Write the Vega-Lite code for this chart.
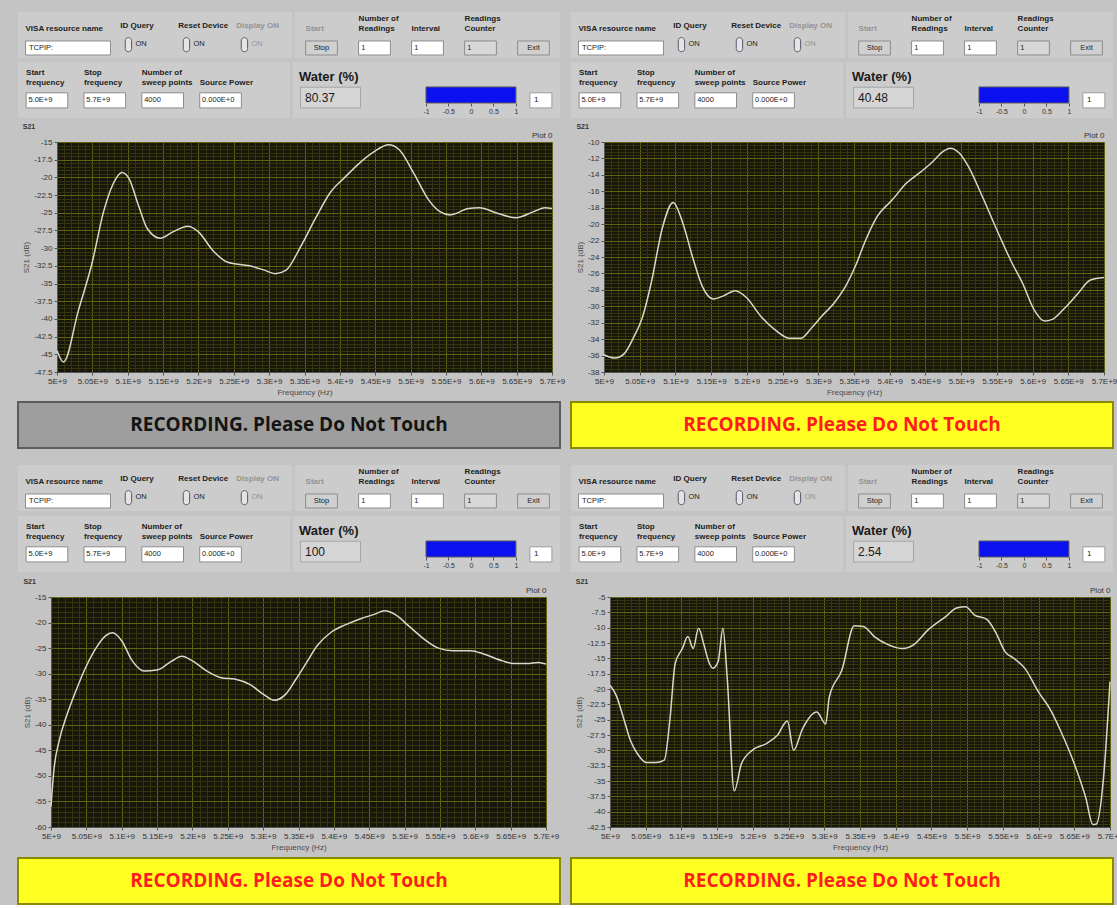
{
"$schema": "https://vega.github.io/schema/vega-lite/v6.json",
"background": "#c4c4c4",
"padding": {"left": 15, "top": 12, "right": 0, "bottom": 0},
"config": {
  "view": {"stroke": null},
  "font": "Liberation Sans",
  "axis": {"labelFont": "Liberation Sans", "labelFontSize": 8, "labelColor": "#333333", "titleFont": "Liberation Sans", "titleFontSize": 8, "titleFontWeight": "normal", "titleColor": "#4a4a4a", "tickColor": "#555555", "domainColor": "#555555"},
  "title": {"font": "Liberation Sans"}
},
"datasets": {
  "visa": [{"label": "\nVISA resource name", "value": "TCPIP:", "kind": "input", "state": "on"}],
  "toggles": [{"label": "ID Query", "value": "ON", "state": "on"}, {"label": "Reset Device", "value": "ON", "state": "on"}, {"label": "Display ON", "value": "ON", "state": "off"}],
  "run": [{"label": "\nStart", "value": "Stop", "kind": "button", "state": "off"}, {"label": "Number of\nReadings", "value": "1", "kind": "input", "state": "on"}, {"label": "\nInterval", "value": "1", "kind": "input", "state": "on"}, {"label": "Readings\nCounter", "value": "1", "kind": "indicator", "state": "on"}, {"label": " ", "value": "Exit", "kind": "button", "state": "on"}],
  "freq": [{"label": "Start\nfrequency", "value": "5.0E+9", "kind": "input", "state": "on"}, {"label": "Stop\nfrequency", "value": "5.7E+9", "kind": "input", "state": "on"}, {"label": "Number of\nsweep points", "value": "4000", "kind": "input", "state": "on"}, {"label": "\nSource Power", "value": "0.000E+0", "kind": "input", "state": "on"}],
  "indicator": [{"reading": 1}],
  "spacer": [{"k": 0}]
},
"spacing": 2,
"hconcat": [
{"spacing": 16, "vconcat": [
 {"concat": [
  {"hconcat": [
   {"hconcat": [
    {"width": 100, "height": 46, "view": {"fill": "#cccccc", "stroke": null}, "data": {"name": "visa"},
     "layer": [
      {"mark": {"type": "bar", "width": {"band": 0.85}, "stroke": "#8c8c8c", "strokeWidth": 1},
       "encoding": {"x": {"field": "label", "type": "nominal", "sort": null, "axis": null, "scale": {"paddingInner": 0, "paddingOuter": 0}},
        "y": {"datum": 0.065, "type": "quantitative", "axis": null, "scale": {"domain": [0, 1], "nice": false, "zero": false}},
        "y2": {"datum": 0.37},
        "fill": {"field": "kind", "type": "nominal", "legend": null, "scale": {"domain": ["input", "indicator", "button"], "range": ["#ffffff", "#d8d8d8", "#d0d0d0"]}}}},
      {"mark": {"type": "text", "align": "left", "baseline": "top", "fontSize": 8, "fontWeight": "bold", "lineBreak": "\n", "lineHeight": 10},
       "encoding": {"x": {"field": "label", "type": "nominal", "sort": null, "axis": null, "bandPosition": 0.075},
        "y": {"datum": 0.935, "type": "quantitative", "axis": null},
        "text": {"field": "label"},
        "color": {"field": "state", "type": "nominal", "legend": null, "scale": {"domain": ["on", "off"], "range": ["#1c1c1c", "#939393"]}}}},
      {"mark": {"type": "text", "align": "left", "baseline": "middle", "fontSize": 7.5, "color": "#222222"},
       "encoding": {"x": {"field": "label", "type": "nominal", "sort": null, "axis": null, "bandPosition": 0.11},
        "y": {"datum": 0.217, "type": "quantitative", "axis": null},
        "text": {"field": "value"}}}]},
    {"width": 174, "height": 46, "view": {"fill": "#cccccc", "stroke": null}, "data": {"name": "toggles"},
     "layer": [
      {"mark": {"type": "text", "align": "left", "baseline": "bottom", "fontSize": 8, "fontWeight": "bold"},
       "encoding": {"x": {"field": "label", "type": "nominal", "sort": null, "axis": null, "bandPosition": 0.04, "scale": {"type": "band", "paddingInner": 0, "paddingOuter": 0}},
        "y": {"datum": 0.61, "type": "quantitative", "axis": null, "scale": {"domain": [0, 1], "nice": false, "zero": false}},
        "text": {"field": "label"},
        "color": {"field": "state", "type": "nominal", "legend": null, "scale": {"domain": ["on", "off"], "range": ["#1c1c1c", "#939393"]}}}},
      {"mark": {"type": "point", "shape": "M -0.45 -0.55 A 0.45 0.45 0 0 1 0.45 -0.55 L 0.45 0.55 A 0.45 0.45 0 0 1 -0.45 0.55 Z", "size": 200, "filled": true, "fill": "#e4e4e4", "stroke": "#56566e", "strokeWidth": 1, "opacity": 1},
       "encoding": {"x": {"field": "label", "type": "nominal", "sort": null, "axis": null, "bandPosition": 0.18},
        "y": {"datum": 0.29, "type": "quantitative", "axis": null}}},
      {"mark": {"type": "text", "align": "left", "baseline": "middle", "fontSize": 7.5},
       "encoding": {"x": {"field": "label", "type": "nominal", "sort": null, "axis": null, "bandPosition": 0.3},
        "y": {"datum": 0.31, "type": "quantitative", "axis": null},
        "text": {"field": "value"},
        "color": {"field": "state", "type": "nominal", "legend": null, "scale": {"domain": ["on", "off"], "range": ["#1c1c1c", "#939393"]}}}}]}
   ], "spacing": 0},
   {"width": 265, "height": 46, "view": {"fill": "#cccccc", "stroke": null}, "data": {"name": "run"},
    "layer": [
     {"mark": {"type": "bar", "width": {"band": 0.6}, "stroke": "#8c8c8c", "strokeWidth": 1},
      "encoding": {"x": {"field": "label", "type": "nominal", "sort": null, "axis": null, "scale": {"paddingInner": 0, "paddingOuter": 0}},
       "y": {"datum": 0.065, "type": "quantitative", "axis": null, "scale": {"domain": [0, 1], "nice": false, "zero": false}},
       "y2": {"datum": 0.37},
       "fill": {"field": "kind", "type": "nominal", "legend": null, "scale": {"domain": ["input", "indicator", "button"], "range": ["#ffffff", "#d8d8d8", "#d0d0d0"]}}}},
     {"mark": {"type": "text", "align": "left", "baseline": "top", "fontSize": 8, "fontWeight": "bold", "lineBreak": "\n", "lineHeight": 10},
      "encoding": {"x": {"field": "label", "type": "nominal", "sort": null, "axis": null, "bandPosition": 0.2},
       "y": {"datum": 0.935, "type": "quantitative", "axis": null},
       "text": {"field": "label"},
       "color": {"field": "state", "type": "nominal", "legend": null, "scale": {"domain": ["on", "off"], "range": ["#1c1c1c", "#939393"]}}}},
     {"transform": [{"filter": "datum.kind != 'button'"}],
      "mark": {"type": "text", "align": "left", "baseline": "middle", "fontSize": 7.5, "color": "#222222"},
      "encoding": {"x": {"field": "label", "type": "nominal", "sort": null, "axis": null, "bandPosition": 0.25},
       "y": {"datum": 0.217, "type": "quantitative", "axis": null},
       "text": {"field": "value"}}},
     {"transform": [{"filter": "datum.kind == 'button'"}],
      "mark": {"type": "text", "align": "center", "baseline": "middle", "fontSize": 7.5, "color": "#222222"},
      "encoding": {"x": {"field": "label", "type": "nominal", "sort": null, "axis": null, "bandPosition": 0.5},
       "y": {"datum": 0.217, "type": "quantitative", "axis": null},
       "text": {"field": "value"}}}]}
  ], "spacing": 3},
  {"hconcat": [
   {"width": 272, "height": 56, "view": {"fill": "#cccccc", "stroke": null}, "data": {"name": "freq"},
    "layer": [
     {"mark": {"type": "bar", "width": {"band": 0.72}, "stroke": "#8c8c8c", "strokeWidth": 1},
      "encoding": {"x": {"field": "label", "type": "nominal", "sort": null, "axis": null, "scale": {"paddingInner": 0, "paddingOuter": 0.35, "align": 0}},
       "y": {"datum": 0.18, "type": "quantitative", "axis": null, "scale": {"domain": [0, 1], "nice": false, "zero": false}},
       "y2": {"datum": 0.45},
       "fill": {"field": "kind", "type": "nominal", "legend": null, "scale": {"domain": ["input", "indicator", "button"], "range": ["#ffffff", "#d8d8d8", "#d0d0d0"]}}}},
     {"mark": {"type": "text", "align": "left", "baseline": "top", "fontSize": 8, "fontWeight": "bold", "lineBreak": "\n", "lineHeight": 10, "color": "#1c1c1c"},
      "encoding": {"x": {"field": "label", "type": "nominal", "sort": null, "axis": null, "bandPosition": 0.14},
       "y": {"datum": 0.875, "type": "quantitative", "axis": null},
       "text": {"field": "label"}}},
     {"mark": {"type": "text", "align": "left", "baseline": "middle", "fontSize": 7.5, "color": "#222222"},
      "encoding": {"x": {"field": "label", "type": "nominal", "sort": null, "axis": null, "bandPosition": 0.18},
       "y": {"datum": 0.315, "type": "quantitative", "axis": null},
       "text": {"field": "value"}}}]},
   {"hconcat": [
    {"width": 75, "height": 56, "view": {"fill": "#cccccc", "stroke": null}, "data": {"values": [{"label": "Water (%)", "value": "80.37"}]},
     "layer": [
      {"mark": {"type": "bar", "width": {"band": 0.8}, "fill": "#d5d5d5", "stroke": "#a6a6a6", "strokeWidth": 1},
       "encoding": {"x": {"field": "label", "type": "nominal", "axis": null, "scale": {"paddingInner": 0, "paddingOuter": 0}},
        "y": {"datum": 0.18, "type": "quantitative", "axis": null, "scale": {"domain": [0, 1], "nice": false, "zero": false}},
        "y2": {"datum": 0.55}}},
      {"mark": {"type": "text", "align": "left", "baseline": "middle", "fontSize": 13, "fontWeight": "bold", "color": "#1a1a1a"},
       "encoding": {"x": {"field": "label", "type": "nominal", "axis": null, "bandPosition": 0.08},
        "y": {"datum": 0.73, "type": "quantitative", "axis": null},
        "text": {"field": "label"}}},
      {"mark": {"type": "text", "align": "left", "baseline": "middle", "fontSize": 12, "color": "#1a1a1a"},
       "encoding": {"x": {"field": "label", "type": "nominal", "axis": null, "bandPosition": 0.16},
        "y": {"datum": 0.365, "type": "quantitative", "axis": null},
        "text": {"field": "value"}}}]},
    {"width": 192, "height": 56, "view": {"fill": "#cccccc", "stroke": null}, "data": {"name": "indicator"},
     "layer": [
      {"mark": {"type": "rect", "fill": "#0a10f0", "stroke": "#5a5a5a", "strokeWidth": 1},
       "encoding": {"x": {"field": "reading", "type": "quantitative", "scale": {"domain": [-2.29, 1.98], "nice": false, "zero": false},
         "axis": {"values": [-1, -0.5, 0, 0.5, 1], "labelExpr": "'' + datum.value", "domain": false, "grid": false, "tickSize": 3, "labelFontSize": 7, "labelPadding": 1, "title": null, "offset": -15, "labelFlush": false, "labelOverlap": false}},
        "x2": {"datum": -1},
        "y": {"datum": 0.268, "type": "quantitative", "axis": null, "scale": {"domain": [0, 1], "nice": false, "zero": false}},
        "y2": {"datum": 0.554}}},
      {"mark": {"type": "rect", "fill": "#ffffff", "stroke": "#9a9a9a", "strokeWidth": 1},
       "encoding": {"x": {"datum": 1.31, "type": "quantitative"}, "x2": {"datum": 1.8},
        "y": {"datum": 0.18, "type": "quantitative", "axis": null}, "y2": {"datum": 0.45}}},
      {"mark": {"type": "text", "align": "left", "baseline": "middle", "fontSize": 8, "color": "#222222"},
       "encoding": {"x": {"datum": 1.4, "type": "quantitative"},
        "y": {"datum": 0.315, "type": "quantitative", "axis": null},
        "text": {"field": "reading"}}}]}
   ], "spacing": 0}
  ], "spacing": 3},
  {"hconcat": [
  {"width": 1, "height": 1, "view": {"fill": null, "stroke": null}, "data": {"name": "spacer"}, "mark": {"type": "point", "opacity": 0}},
  {"width": 495, "height": 230,
   "title": {"text": "S21", "anchor": "start", "frame": "bounds", "fontSize": 7, "fontWeight": "bold", "color": "#333333", "offset": 1},
   "view": {"fill": "#16160a", "stroke": "#6e6e6e"},
   "data": {"values": [
    {"f": 5.0e9, "s": -44.5}, {"f": 5.0093e9, "s": -46.1}, {"f": 5.030e9, "s": -38.9}, {"f": 5.0496e9, "s": -32.1}, {"f": 5.066e9, "s": -24.8}, {"f": 5.079e9, "s": -21.0}, {"f": 5.092e9, "s": -19.3}, {"f": 5.102e9, "s": -20.2}, {"f": 5.115e9, "s": -23.9}, {"f": 5.128e9, "s": -27.3}, {"f": 5.146e9, "s": -28.6}, {"f": 5.164e9, "s": -27.7}, {"f": 5.185e9, "s": -26.9}, {"f": 5.200e9, "s": -27.7}, {"f": 5.221e9, "s": -30.4}, {"f": 5.2416e9, "s": -32.0}, {"f": 5.2726e9, "s": -32.5}, {"f": 5.293e9, "s": -33.1}, {"f": 5.3087e9, "s": -33.6}, {"f": 5.324e9, "s": -33.1}, {"f": 5.345e9, "s": -29.7}, {"f": 5.3655e9, "s": -25.8}, {"f": 5.386e9, "s": -22.2}, {"f": 5.407e9, "s": -20.0}, {"f": 5.427e9, "s": -18.05}, {"f": 5.448e9, "s": -16.4}, {"f": 5.469e9, "s": -15.4}, {"f": 5.484e9, "s": -16.1}, {"f": 5.505e9, "s": -19.5}, {"f": 5.525e9, "s": -23.1}, {"f": 5.541e9, "s": -24.8}, {"f": 5.556e9, "s": -25.3}, {"f": 5.582e9, "s": -24.4}, {"f": 5.597e9, "s": -24.3}, {"f": 5.6236e9, "s": -25.1}, {"f": 5.649e9, "s": -25.7}, {"f": 5.675e9, "s": -24.8}, {"f": 5.69e9, "s": -24.3}, {"f": 5.7e9, "s": -24.4}
   ]},
   "resolve": {"axis": {"x": "independent", "y": "independent"}},
   "layer": [
    {"mark": {"type": "line", "opacity": 0},
     "encoding": {
      "x": {"field": "f", "type": "quantitative", "scale": {"domain": [5e9, 5.7e9], "nice": false, "zero": false},
        "axis": {"orient": "top", "minExtent": 0, "values": [5.01e9,5.02e9,5.03e9,5.04e9,5.06e9,5.07e9,5.08e9,5.09e9,5.11e9,5.12e9,5.13e9,5.14e9,5.16e9,5.17e9,5.18e9,5.19e9,5.21e9,5.22e9,5.23e9,5.24e9,5.26e9,5.27e9,5.28e9,5.29e9,5.31e9,5.32e9,5.33e9,5.34e9,5.36e9,5.37e9,5.38e9,5.39e9,5.41e9,5.42e9,5.43e9,5.44e9,5.46e9,5.47e9,5.48e9,5.49e9,5.51e9,5.52e9,5.53e9,5.54e9,5.56e9,5.57e9,5.58e9,5.59e9,5.61e9,5.62e9,5.63e9,5.64e9,5.66e9,5.67e9,5.68e9,5.69e9], "grid": true, "gridColor": "#34340f", "labels": false, "ticks": false, "domain": false, "title": "Plot 0", "titleAnchor": "end", "titleColor": "#333333", "titlePadding": 3}},
      "y": {"field": "s", "type": "quantitative", "scale": {"domain": [-47.5, -15], "nice": false, "zero": false},
        "axis": {"orient": "right", "minExtent": 0, "values": [-15.5,-16,-16.5,-17,-18,-18.5,-19,-19.5,-20.5,-21,-21.5,-22,-23,-23.5,-24,-24.5,-25.5,-26,-26.5,-27,-28,-28.5,-29,-29.5,-30.5,-31,-31.5,-32,-33,-33.5,-34,-34.5,-35.5,-36,-36.5,-37,-38,-38.5,-39,-39.5,-40.5,-41,-41.5,-42,-43,-43.5,-44,-44.5,-45.5,-46,-46.5,-47], "grid": true, "gridColor": "#34340f", "labels": false, "ticks": false, "domain": false, "title": null}}}},
    {"mark": {"type": "line", "interpolate": "monotone", "color": "#d8d8cc", "strokeWidth": 1.5},
     "encoding": {
      "x": {"field": "f", "type": "quantitative",
        "axis": {"orient": "bottom", "values": [5e9,5.05e9,5.1e9,5.15e9,5.2e9,5.25e9,5.3e9,5.35e9,5.4e9,5.45e9,5.5e9,5.55e9,5.6e9,5.65e9,5.7e9], "grid": true, "gridColor": "#62620f", "labelExpr": "datum.value / 1e9 + 'E+9'", "labelFlush": false, "labelOverlap": false, "tickSize": 3, "title": "Frequency (Hz)", "titlePadding": 3}},
      "y": {"field": "s", "type": "quantitative",
        "axis": {"orient": "left", "values": [-15,-17.5,-20,-22.5,-25,-27.5,-30,-32.5,-35,-37.5,-40,-42.5,-45,-47.5], "grid": true, "gridColor": "#62620f", "labelExpr": "'' + datum.value", "labelOverlap": false, "tickSize": 3, "title": "S21 (dB)", "titlePadding": 3}}}}
   ]}
  ], "spacing": 0},
  {"width": 542, "height": 46, "view": {"fill": "#9e9e9e", "stroke": "#5c5c5c", "strokeWidth": 2}, "data": {"values": [{"msg": "RECORDING. Please Do Not Touch"}]},
   "mark": {"type": "text", "font": "Open Sans", "fontSize": 19, "fontWeight": "bold", "color": "#141414"},
   "encoding": {"text": {"field": "msg"}}}
 ], "columns": 1, "spacing": 4},
 {"concat": [
  {"hconcat": [
   {"hconcat": [
    {"width": 100, "height": 46, "view": {"fill": "#cccccc", "stroke": null}, "data": {"name": "visa"},
     "layer": [
      {"mark": {"type": "bar", "width": {"band": 0.85}, "stroke": "#8c8c8c", "strokeWidth": 1},
       "encoding": {"x": {"field": "label", "type": "nominal", "sort": null, "axis": null, "scale": {"paddingInner": 0, "paddingOuter": 0}},
        "y": {"datum": 0.065, "type": "quantitative", "axis": null, "scale": {"domain": [0, 1], "nice": false, "zero": false}},
        "y2": {"datum": 0.37},
        "fill": {"field": "kind", "type": "nominal", "legend": null, "scale": {"domain": ["input", "indicator", "button"], "range": ["#ffffff", "#d8d8d8", "#d0d0d0"]}}}},
      {"mark": {"type": "text", "align": "left", "baseline": "top", "fontSize": 8, "fontWeight": "bold", "lineBreak": "\n", "lineHeight": 10},
       "encoding": {"x": {"field": "label", "type": "nominal", "sort": null, "axis": null, "bandPosition": 0.075},
        "y": {"datum": 0.935, "type": "quantitative", "axis": null},
        "text": {"field": "label"},
        "color": {"field": "state", "type": "nominal", "legend": null, "scale": {"domain": ["on", "off"], "range": ["#1c1c1c", "#939393"]}}}},
      {"mark": {"type": "text", "align": "left", "baseline": "middle", "fontSize": 7.5, "color": "#222222"},
       "encoding": {"x": {"field": "label", "type": "nominal", "sort": null, "axis": null, "bandPosition": 0.11},
        "y": {"datum": 0.217, "type": "quantitative", "axis": null},
        "text": {"field": "value"}}}]},
    {"width": 174, "height": 46, "view": {"fill": "#cccccc", "stroke": null}, "data": {"name": "toggles"},
     "layer": [
      {"mark": {"type": "text", "align": "left", "baseline": "bottom", "fontSize": 8, "fontWeight": "bold"},
       "encoding": {"x": {"field": "label", "type": "nominal", "sort": null, "axis": null, "bandPosition": 0.04, "scale": {"type": "band", "paddingInner": 0, "paddingOuter": 0}},
        "y": {"datum": 0.61, "type": "quantitative", "axis": null, "scale": {"domain": [0, 1], "nice": false, "zero": false}},
        "text": {"field": "label"},
        "color": {"field": "state", "type": "nominal", "legend": null, "scale": {"domain": ["on", "off"], "range": ["#1c1c1c", "#939393"]}}}},
      {"mark": {"type": "point", "shape": "M -0.45 -0.55 A 0.45 0.45 0 0 1 0.45 -0.55 L 0.45 0.55 A 0.45 0.45 0 0 1 -0.45 0.55 Z", "size": 200, "filled": true, "fill": "#e4e4e4", "stroke": "#56566e", "strokeWidth": 1, "opacity": 1},
       "encoding": {"x": {"field": "label", "type": "nominal", "sort": null, "axis": null, "bandPosition": 0.18},
        "y": {"datum": 0.29, "type": "quantitative", "axis": null}}},
      {"mark": {"type": "text", "align": "left", "baseline": "middle", "fontSize": 7.5},
       "encoding": {"x": {"field": "label", "type": "nominal", "sort": null, "axis": null, "bandPosition": 0.3},
        "y": {"datum": 0.31, "type": "quantitative", "axis": null},
        "text": {"field": "value"},
        "color": {"field": "state", "type": "nominal", "legend": null, "scale": {"domain": ["on", "off"], "range": ["#1c1c1c", "#939393"]}}}}]}
   ], "spacing": 0},
   {"width": 265, "height": 46, "view": {"fill": "#cccccc", "stroke": null}, "data": {"name": "run"},
    "layer": [
     {"mark": {"type": "bar", "width": {"band": 0.6}, "stroke": "#8c8c8c", "strokeWidth": 1},
      "encoding": {"x": {"field": "label", "type": "nominal", "sort": null, "axis": null, "scale": {"paddingInner": 0, "paddingOuter": 0}},
       "y": {"datum": 0.065, "type": "quantitative", "axis": null, "scale": {"domain": [0, 1], "nice": false, "zero": false}},
       "y2": {"datum": 0.37},
       "fill": {"field": "kind", "type": "nominal", "legend": null, "scale": {"domain": ["input", "indicator", "button"], "range": ["#ffffff", "#d8d8d8", "#d0d0d0"]}}}},
     {"mark": {"type": "text", "align": "left", "baseline": "top", "fontSize": 8, "fontWeight": "bold", "lineBreak": "\n", "lineHeight": 10},
      "encoding": {"x": {"field": "label", "type": "nominal", "sort": null, "axis": null, "bandPosition": 0.2},
       "y": {"datum": 0.935, "type": "quantitative", "axis": null},
       "text": {"field": "label"},
       "color": {"field": "state", "type": "nominal", "legend": null, "scale": {"domain": ["on", "off"], "range": ["#1c1c1c", "#939393"]}}}},
     {"transform": [{"filter": "datum.kind != 'button'"}],
      "mark": {"type": "text", "align": "left", "baseline": "middle", "fontSize": 7.5, "color": "#222222"},
      "encoding": {"x": {"field": "label", "type": "nominal", "sort": null, "axis": null, "bandPosition": 0.25},
       "y": {"datum": 0.217, "type": "quantitative", "axis": null},
       "text": {"field": "value"}}},
     {"transform": [{"filter": "datum.kind == 'button'"}],
      "mark": {"type": "text", "align": "center", "baseline": "middle", "fontSize": 7.5, "color": "#222222"},
      "encoding": {"x": {"field": "label", "type": "nominal", "sort": null, "axis": null, "bandPosition": 0.5},
       "y": {"datum": 0.217, "type": "quantitative", "axis": null},
       "text": {"field": "value"}}}]}
  ], "spacing": 3},
  {"hconcat": [
   {"width": 272, "height": 56, "view": {"fill": "#cccccc", "stroke": null}, "data": {"name": "freq"},
    "layer": [
     {"mark": {"type": "bar", "width": {"band": 0.72}, "stroke": "#8c8c8c", "strokeWidth": 1},
      "encoding": {"x": {"field": "label", "type": "nominal", "sort": null, "axis": null, "scale": {"paddingInner": 0, "paddingOuter": 0.35, "align": 0}},
       "y": {"datum": 0.18, "type": "quantitative", "axis": null, "scale": {"domain": [0, 1], "nice": false, "zero": false}},
       "y2": {"datum": 0.45},
       "fill": {"field": "kind", "type": "nominal", "legend": null, "scale": {"domain": ["input", "indicator", "button"], "range": ["#ffffff", "#d8d8d8", "#d0d0d0"]}}}},
     {"mark": {"type": "text", "align": "left", "baseline": "top", "fontSize": 8, "fontWeight": "bold", "lineBreak": "\n", "lineHeight": 10, "color": "#1c1c1c"},
      "encoding": {"x": {"field": "label", "type": "nominal", "sort": null, "axis": null, "bandPosition": 0.14},
       "y": {"datum": 0.875, "type": "quantitative", "axis": null},
       "text": {"field": "label"}}},
     {"mark": {"type": "text", "align": "left", "baseline": "middle", "fontSize": 7.5, "color": "#222222"},
      "encoding": {"x": {"field": "label", "type": "nominal", "sort": null, "axis": null, "bandPosition": 0.18},
       "y": {"datum": 0.315, "type": "quantitative", "axis": null},
       "text": {"field": "value"}}}]},
   {"hconcat": [
    {"width": 75, "height": 56, "view": {"fill": "#cccccc", "stroke": null}, "data": {"values": [{"label": "Water (%)", "value": "100"}]},
     "layer": [
      {"mark": {"type": "bar", "width": {"band": 0.8}, "fill": "#d5d5d5", "stroke": "#a6a6a6", "strokeWidth": 1},
       "encoding": {"x": {"field": "label", "type": "nominal", "axis": null, "scale": {"paddingInner": 0, "paddingOuter": 0}},
        "y": {"datum": 0.18, "type": "quantitative", "axis": null, "scale": {"domain": [0, 1], "nice": false, "zero": false}},
        "y2": {"datum": 0.55}}},
      {"mark": {"type": "text", "align": "left", "baseline": "middle", "fontSize": 13, "fontWeight": "bold", "color": "#1a1a1a"},
       "encoding": {"x": {"field": "label", "type": "nominal", "axis": null, "bandPosition": 0.08},
        "y": {"datum": 0.73, "type": "quantitative", "axis": null},
        "text": {"field": "label"}}},
      {"mark": {"type": "text", "align": "left", "baseline": "middle", "fontSize": 12, "color": "#1a1a1a"},
       "encoding": {"x": {"field": "label", "type": "nominal", "axis": null, "bandPosition": 0.16},
        "y": {"datum": 0.365, "type": "quantitative", "axis": null},
        "text": {"field": "value"}}}]},
    {"width": 192, "height": 56, "view": {"fill": "#cccccc", "stroke": null}, "data": {"name": "indicator"},
     "layer": [
      {"mark": {"type": "rect", "fill": "#0a10f0", "stroke": "#5a5a5a", "strokeWidth": 1},
       "encoding": {"x": {"field": "reading", "type": "quantitative", "scale": {"domain": [-2.29, 1.98], "nice": false, "zero": false},
         "axis": {"values": [-1, -0.5, 0, 0.5, 1], "labelExpr": "'' + datum.value", "domain": false, "grid": false, "tickSize": 3, "labelFontSize": 7, "labelPadding": 1, "title": null, "offset": -15, "labelFlush": false, "labelOverlap": false}},
        "x2": {"datum": -1},
        "y": {"datum": 0.268, "type": "quantitative", "axis": null, "scale": {"domain": [0, 1], "nice": false, "zero": false}},
        "y2": {"datum": 0.554}}},
      {"mark": {"type": "rect", "fill": "#ffffff", "stroke": "#9a9a9a", "strokeWidth": 1},
       "encoding": {"x": {"datum": 1.31, "type": "quantitative"}, "x2": {"datum": 1.8},
        "y": {"datum": 0.18, "type": "quantitative", "axis": null}, "y2": {"datum": 0.45}}},
      {"mark": {"type": "text", "align": "left", "baseline": "middle", "fontSize": 8, "color": "#222222"},
       "encoding": {"x": {"datum": 1.4, "type": "quantitative"},
        "y": {"datum": 0.315, "type": "quantitative", "axis": null},
        "text": {"field": "reading"}}}]}
   ], "spacing": 0}
  ], "spacing": 3},
  {"hconcat": [
  {"width": 1, "height": 1, "view": {"fill": null, "stroke": null}, "data": {"name": "spacer"}, "mark": {"type": "point", "opacity": 0}},
  {"width": 495, "height": 230,
   "title": {"text": "S21", "anchor": "start", "frame": "bounds", "fontSize": 7, "fontWeight": "bold", "color": "#333333", "offset": 1},
   "view": {"fill": "#16160a", "stroke": "#6e6e6e"},
   "data": {"values": [
    {"f": 5.0e9, "s": -56}, {"f": 5.004e9, "s": -49.0}, {"f": 5.0116e9, "s": -43.1}, {"f": 5.0217e9, "s": -38.4}, {"f": 5.034e9, "s": -33.8}, {"f": 5.049e9, "s": -28.8}, {"f": 5.0645e9, "s": -24.8}, {"f": 5.077e9, "s": -22.6}, {"f": 5.087e9, "s": -22.0}, {"f": 5.0997e9, "s": -23.5}, {"f": 5.115e9, "s": -27.5}, {"f": 5.132e9, "s": -29.5}, {"f": 5.150e9, "s": -29.3}, {"f": 5.170e9, "s": -27.6}, {"f": 5.185e9, "s": -26.6}, {"f": 5.200e9, "s": -27.5}, {"f": 5.2205e9, "s": -29.5}, {"f": 5.2407e9, "s": -30.8}, {"f": 5.261e9, "s": -31.1}, {"f": 5.281e9, "s": -32.1}, {"f": 5.301e9, "s": -34.1}, {"f": 5.316e9, "s": -35.2}, {"f": 5.3313e9, "s": -34.1}, {"f": 5.3464e9, "s": -31.1}, {"f": 5.3615e9, "s": -27.8}, {"f": 5.3766e9, "s": -24.5}, {"f": 5.397e9, "s": -21.8}, {"f": 5.417e9, "s": -20.4}, {"f": 5.437e9, "s": -19.3}, {"f": 5.457e9, "s": -18.4}, {"f": 5.472e9, "s": -17.7}, {"f": 5.4875e9, "s": -18.5}, {"f": 5.507e9, "s": -20.8}, {"f": 5.533e9, "s": -23.8}, {"f": 5.548e9, "s": -25.0}, {"f": 5.568e9, "s": -25.5}, {"f": 5.593e9, "s": -25.5}, {"f": 5.613e9, "s": -26.2}, {"f": 5.6385e9, "s": -27.5}, {"f": 5.6536e9, "s": -28.0}, {"f": 5.674e9, "s": -28.0}, {"f": 5.689e9, "s": -27.8}, {"f": 5.7e9, "s": -28.1}
   ]},
   "resolve": {"axis": {"x": "independent", "y": "independent"}},
   "layer": [
    {"mark": {"type": "line", "opacity": 0},
     "encoding": {
      "x": {"field": "f", "type": "quantitative", "scale": {"domain": [5e9, 5.7e9], "nice": false, "zero": false},
        "axis": {"orient": "top", "minExtent": 0, "values": [5.01e9,5.02e9,5.03e9,5.04e9,5.06e9,5.07e9,5.08e9,5.09e9,5.11e9,5.12e9,5.13e9,5.14e9,5.16e9,5.17e9,5.18e9,5.19e9,5.21e9,5.22e9,5.23e9,5.24e9,5.26e9,5.27e9,5.28e9,5.29e9,5.31e9,5.32e9,5.33e9,5.34e9,5.36e9,5.37e9,5.38e9,5.39e9,5.41e9,5.42e9,5.43e9,5.44e9,5.46e9,5.47e9,5.48e9,5.49e9,5.51e9,5.52e9,5.53e9,5.54e9,5.56e9,5.57e9,5.58e9,5.59e9,5.61e9,5.62e9,5.63e9,5.64e9,5.66e9,5.67e9,5.68e9,5.69e9], "grid": true, "gridColor": "#34340f", "labels": false, "ticks": false, "domain": false, "title": "Plot 0", "titleAnchor": "end", "titleColor": "#333333", "titlePadding": 3}},
      "y": {"field": "s", "type": "quantitative", "scale": {"domain": [-60, -15], "nice": false, "zero": false},
        "axis": {"orient": "right", "minExtent": 0, "values": [-16,-17,-18,-19,-21,-22,-23,-24,-26,-27,-28,-29,-31,-32,-33,-34,-36,-37,-38,-39,-41,-42,-43,-44,-46,-47,-48,-49,-51,-52,-53,-54,-56,-57,-58,-59], "grid": true, "gridColor": "#34340f", "labels": false, "ticks": false, "domain": false, "title": null}}}},
    {"mark": {"type": "line", "interpolate": "monotone", "color": "#d8d8cc", "strokeWidth": 1.5},
     "encoding": {
      "x": {"field": "f", "type": "quantitative",
        "axis": {"orient": "bottom", "values": [5e9,5.05e9,5.1e9,5.15e9,5.2e9,5.25e9,5.3e9,5.35e9,5.4e9,5.45e9,5.5e9,5.55e9,5.6e9,5.65e9,5.7e9], "grid": true, "gridColor": "#62620f", "labelExpr": "datum.value / 1e9 + 'E+9'", "labelFlush": false, "labelOverlap": false, "tickSize": 3, "title": "Frequency (Hz)", "titlePadding": 3}},
      "y": {"field": "s", "type": "quantitative",
        "axis": {"orient": "left", "values": [-15,-20,-25,-30,-35,-40,-45,-50,-55,-60], "grid": true, "gridColor": "#62620f", "labelExpr": "'' + datum.value", "labelOverlap": false, "tickSize": 3, "title": "S21 (dB)", "titlePadding": 3}}}}
   ]}
  ], "spacing": 0},
  {"width": 542, "height": 46, "view": {"fill": "#ffff22", "stroke": "#8a8a00", "strokeWidth": 2}, "data": {"values": [{"msg": "RECORDING. Please Do Not Touch"}]},
   "mark": {"type": "text", "font": "Open Sans", "fontSize": 19, "fontWeight": "bold", "color": "#ff1c1c"},
   "encoding": {"text": {"field": "msg"}}}
 ], "columns": 1, "spacing": 5}
]},
{"spacing": 16, "vconcat": [
 {"concat": [
  {"hconcat": [
   {"hconcat": [
    {"width": 100, "height": 46, "view": {"fill": "#cccccc", "stroke": null}, "data": {"name": "visa"},
     "layer": [
      {"mark": {"type": "bar", "width": {"band": 0.85}, "stroke": "#8c8c8c", "strokeWidth": 1},
       "encoding": {"x": {"field": "label", "type": "nominal", "sort": null, "axis": null, "scale": {"paddingInner": 0, "paddingOuter": 0}},
        "y": {"datum": 0.065, "type": "quantitative", "axis": null, "scale": {"domain": [0, 1], "nice": false, "zero": false}},
        "y2": {"datum": 0.37},
        "fill": {"field": "kind", "type": "nominal", "legend": null, "scale": {"domain": ["input", "indicator", "button"], "range": ["#ffffff", "#d8d8d8", "#d0d0d0"]}}}},
      {"mark": {"type": "text", "align": "left", "baseline": "top", "fontSize": 8, "fontWeight": "bold", "lineBreak": "\n", "lineHeight": 10},
       "encoding": {"x": {"field": "label", "type": "nominal", "sort": null, "axis": null, "bandPosition": 0.075},
        "y": {"datum": 0.935, "type": "quantitative", "axis": null},
        "text": {"field": "label"},
        "color": {"field": "state", "type": "nominal", "legend": null, "scale": {"domain": ["on", "off"], "range": ["#1c1c1c", "#939393"]}}}},
      {"mark": {"type": "text", "align": "left", "baseline": "middle", "fontSize": 7.5, "color": "#222222"},
       "encoding": {"x": {"field": "label", "type": "nominal", "sort": null, "axis": null, "bandPosition": 0.11},
        "y": {"datum": 0.217, "type": "quantitative", "axis": null},
        "text": {"field": "value"}}}]},
    {"width": 174, "height": 46, "view": {"fill": "#cccccc", "stroke": null}, "data": {"name": "toggles"},
     "layer": [
      {"mark": {"type": "text", "align": "left", "baseline": "bottom", "fontSize": 8, "fontWeight": "bold"},
       "encoding": {"x": {"field": "label", "type": "nominal", "sort": null, "axis": null, "bandPosition": 0.04, "scale": {"type": "band", "paddingInner": 0, "paddingOuter": 0}},
        "y": {"datum": 0.61, "type": "quantitative", "axis": null, "scale": {"domain": [0, 1], "nice": false, "zero": false}},
        "text": {"field": "label"},
        "color": {"field": "state", "type": "nominal", "legend": null, "scale": {"domain": ["on", "off"], "range": ["#1c1c1c", "#939393"]}}}},
      {"mark": {"type": "point", "shape": "M -0.45 -0.55 A 0.45 0.45 0 0 1 0.45 -0.55 L 0.45 0.55 A 0.45 0.45 0 0 1 -0.45 0.55 Z", "size": 200, "filled": true, "fill": "#e4e4e4", "stroke": "#56566e", "strokeWidth": 1, "opacity": 1},
       "encoding": {"x": {"field": "label", "type": "nominal", "sort": null, "axis": null, "bandPosition": 0.18},
        "y": {"datum": 0.29, "type": "quantitative", "axis": null}}},
      {"mark": {"type": "text", "align": "left", "baseline": "middle", "fontSize": 7.5},
       "encoding": {"x": {"field": "label", "type": "nominal", "sort": null, "axis": null, "bandPosition": 0.3},
        "y": {"datum": 0.31, "type": "quantitative", "axis": null},
        "text": {"field": "value"},
        "color": {"field": "state", "type": "nominal", "legend": null, "scale": {"domain": ["on", "off"], "range": ["#1c1c1c", "#939393"]}}}}]}
   ], "spacing": 0},
   {"width": 265, "height": 46, "view": {"fill": "#cccccc", "stroke": null}, "data": {"name": "run"},
    "layer": [
     {"mark": {"type": "bar", "width": {"band": 0.6}, "stroke": "#8c8c8c", "strokeWidth": 1},
      "encoding": {"x": {"field": "label", "type": "nominal", "sort": null, "axis": null, "scale": {"paddingInner": 0, "paddingOuter": 0}},
       "y": {"datum": 0.065, "type": "quantitative", "axis": null, "scale": {"domain": [0, 1], "nice": false, "zero": false}},
       "y2": {"datum": 0.37},
       "fill": {"field": "kind", "type": "nominal", "legend": null, "scale": {"domain": ["input", "indicator", "button"], "range": ["#ffffff", "#d8d8d8", "#d0d0d0"]}}}},
     {"mark": {"type": "text", "align": "left", "baseline": "top", "fontSize": 8, "fontWeight": "bold", "lineBreak": "\n", "lineHeight": 10},
      "encoding": {"x": {"field": "label", "type": "nominal", "sort": null, "axis": null, "bandPosition": 0.2},
       "y": {"datum": 0.935, "type": "quantitative", "axis": null},
       "text": {"field": "label"},
       "color": {"field": "state", "type": "nominal", "legend": null, "scale": {"domain": ["on", "off"], "range": ["#1c1c1c", "#939393"]}}}},
     {"transform": [{"filter": "datum.kind != 'button'"}],
      "mark": {"type": "text", "align": "left", "baseline": "middle", "fontSize": 7.5, "color": "#222222"},
      "encoding": {"x": {"field": "label", "type": "nominal", "sort": null, "axis": null, "bandPosition": 0.25},
       "y": {"datum": 0.217, "type": "quantitative", "axis": null},
       "text": {"field": "value"}}},
     {"transform": [{"filter": "datum.kind == 'button'"}],
      "mark": {"type": "text", "align": "center", "baseline": "middle", "fontSize": 7.5, "color": "#222222"},
      "encoding": {"x": {"field": "label", "type": "nominal", "sort": null, "axis": null, "bandPosition": 0.5},
       "y": {"datum": 0.217, "type": "quantitative", "axis": null},
       "text": {"field": "value"}}}]}
  ], "spacing": 3},
  {"hconcat": [
   {"width": 272, "height": 56, "view": {"fill": "#cccccc", "stroke": null}, "data": {"name": "freq"},
    "layer": [
     {"mark": {"type": "bar", "width": {"band": 0.72}, "stroke": "#8c8c8c", "strokeWidth": 1},
      "encoding": {"x": {"field": "label", "type": "nominal", "sort": null, "axis": null, "scale": {"paddingInner": 0, "paddingOuter": 0.35, "align": 0}},
       "y": {"datum": 0.18, "type": "quantitative", "axis": null, "scale": {"domain": [0, 1], "nice": false, "zero": false}},
       "y2": {"datum": 0.45},
       "fill": {"field": "kind", "type": "nominal", "legend": null, "scale": {"domain": ["input", "indicator", "button"], "range": ["#ffffff", "#d8d8d8", "#d0d0d0"]}}}},
     {"mark": {"type": "text", "align": "left", "baseline": "top", "fontSize": 8, "fontWeight": "bold", "lineBreak": "\n", "lineHeight": 10, "color": "#1c1c1c"},
      "encoding": {"x": {"field": "label", "type": "nominal", "sort": null, "axis": null, "bandPosition": 0.14},
       "y": {"datum": 0.875, "type": "quantitative", "axis": null},
       "text": {"field": "label"}}},
     {"mark": {"type": "text", "align": "left", "baseline": "middle", "fontSize": 7.5, "color": "#222222"},
      "encoding": {"x": {"field": "label", "type": "nominal", "sort": null, "axis": null, "bandPosition": 0.18},
       "y": {"datum": 0.315, "type": "quantitative", "axis": null},
       "text": {"field": "value"}}}]},
   {"hconcat": [
    {"width": 75, "height": 56, "view": {"fill": "#cccccc", "stroke": null}, "data": {"values": [{"label": "Water (%)", "value": "40.48"}]},
     "layer": [
      {"mark": {"type": "bar", "width": {"band": 0.8}, "fill": "#d5d5d5", "stroke": "#a6a6a6", "strokeWidth": 1},
       "encoding": {"x": {"field": "label", "type": "nominal", "axis": null, "scale": {"paddingInner": 0, "paddingOuter": 0}},
        "y": {"datum": 0.18, "type": "quantitative", "axis": null, "scale": {"domain": [0, 1], "nice": false, "zero": false}},
        "y2": {"datum": 0.55}}},
      {"mark": {"type": "text", "align": "left", "baseline": "middle", "fontSize": 13, "fontWeight": "bold", "color": "#1a1a1a"},
       "encoding": {"x": {"field": "label", "type": "nominal", "axis": null, "bandPosition": 0.08},
        "y": {"datum": 0.73, "type": "quantitative", "axis": null},
        "text": {"field": "label"}}},
      {"mark": {"type": "text", "align": "left", "baseline": "middle", "fontSize": 12, "color": "#1a1a1a"},
       "encoding": {"x": {"field": "label", "type": "nominal", "axis": null, "bandPosition": 0.16},
        "y": {"datum": 0.365, "type": "quantitative", "axis": null},
        "text": {"field": "value"}}}]},
    {"width": 192, "height": 56, "view": {"fill": "#cccccc", "stroke": null}, "data": {"name": "indicator"},
     "layer": [
      {"mark": {"type": "rect", "fill": "#0a10f0", "stroke": "#5a5a5a", "strokeWidth": 1},
       "encoding": {"x": {"field": "reading", "type": "quantitative", "scale": {"domain": [-2.29, 1.98], "nice": false, "zero": false},
         "axis": {"values": [-1, -0.5, 0, 0.5, 1], "labelExpr": "'' + datum.value", "domain": false, "grid": false, "tickSize": 3, "labelFontSize": 7, "labelPadding": 1, "title": null, "offset": -15, "labelFlush": false, "labelOverlap": false}},
        "x2": {"datum": -1},
        "y": {"datum": 0.268, "type": "quantitative", "axis": null, "scale": {"domain": [0, 1], "nice": false, "zero": false}},
        "y2": {"datum": 0.554}}},
      {"mark": {"type": "rect", "fill": "#ffffff", "stroke": "#9a9a9a", "strokeWidth": 1},
       "encoding": {"x": {"datum": 1.31, "type": "quantitative"}, "x2": {"datum": 1.8},
        "y": {"datum": 0.18, "type": "quantitative", "axis": null}, "y2": {"datum": 0.45}}},
      {"mark": {"type": "text", "align": "left", "baseline": "middle", "fontSize": 8, "color": "#222222"},
       "encoding": {"x": {"datum": 1.4, "type": "quantitative"},
        "y": {"datum": 0.315, "type": "quantitative", "axis": null},
        "text": {"field": "reading"}}}]}
   ], "spacing": 0}
  ], "spacing": 3},
  {"hconcat": [
  {"width": 1, "height": 1, "view": {"fill": null, "stroke": null}, "data": {"name": "spacer"}, "mark": {"type": "point", "opacity": 0}},
  {"width": 500, "height": 230,
   "title": {"text": "S21", "anchor": "start", "frame": "bounds", "fontSize": 7, "fontWeight": "bold", "color": "#333333", "offset": 1},
   "view": {"fill": "#16160a", "stroke": "#6e6e6e"},
   "data": {"values": [
    {"f": 5.0e9, "s": -35.9}, {"f": 5.0153e9, "s": -36.3}, {"f": 5.028e9, "s": -35.8}, {"f": 5.0408e9, "s": -33.9}, {"f": 5.0536e9, "s": -31.4}, {"f": 5.066e9, "s": -27.2}, {"f": 5.0816e9, "s": -20.5}, {"f": 5.0969e9, "s": -17.35}, {"f": 5.1097e9, "s": -19.7}, {"f": 5.125e9, "s": -24.3}, {"f": 5.1378e9, "s": -27.6}, {"f": 5.153e9, "s": -29.1}, {"f": 5.168e9, "s": -28.7}, {"f": 5.1837e9, "s": -28.1}, {"f": 5.199e9, "s": -28.9}, {"f": 5.2194e9, "s": -31.2}, {"f": 5.24e9, "s": -32.9}, {"f": 5.26e9, "s": -33.9}, {"f": 5.2755e9, "s": -33.9}, {"f": 5.2908e9, "s": -32.6}, {"f": 5.306e9, "s": -31.1}, {"f": 5.3214e9, "s": -29.7}, {"f": 5.3367e9, "s": -27.8}, {"f": 5.352e9, "s": -25.1}, {"f": 5.367e9, "s": -21.8}, {"f": 5.383e9, "s": -19.0}, {"f": 5.403e9, "s": -17.1}, {"f": 5.4235e9, "s": -15.0}, {"f": 5.444e9, "s": -13.6}, {"f": 5.459e9, "s": -12.5}, {"f": 5.474e9, "s": -11.2}, {"f": 5.4847e9, "s": -10.75}, {"f": 5.497e9, "s": -11.3}, {"f": 5.5097e9, "s": -12.9}, {"f": 5.53e9, "s": -16.7}, {"f": 5.551e9, "s": -20.9}, {"f": 5.571e9, "s": -24.7}, {"f": 5.586e9, "s": -27.2}, {"f": 5.602e9, "s": -30.4}, {"f": 5.617e9, "s": -31.8}, {"f": 5.6276e9, "s": -31.6}, {"f": 5.643e9, "s": -30.4}, {"f": 5.663e9, "s": -28.5}, {"f": 5.681e9, "s": -26.8}, {"f": 5.7e9, "s": -26.5}
   ]},
   "resolve": {"axis": {"x": "independent", "y": "independent"}},
   "layer": [
    {"mark": {"type": "line", "opacity": 0},
     "encoding": {
      "x": {"field": "f", "type": "quantitative", "scale": {"domain": [5e9, 5.7e9], "nice": false, "zero": false},
        "axis": {"orient": "top", "minExtent": 0, "values": [5.01e9,5.02e9,5.03e9,5.04e9,5.06e9,5.07e9,5.08e9,5.09e9,5.11e9,5.12e9,5.13e9,5.14e9,5.16e9,5.17e9,5.18e9,5.19e9,5.21e9,5.22e9,5.23e9,5.24e9,5.26e9,5.27e9,5.28e9,5.29e9,5.31e9,5.32e9,5.33e9,5.34e9,5.36e9,5.37e9,5.38e9,5.39e9,5.41e9,5.42e9,5.43e9,5.44e9,5.46e9,5.47e9,5.48e9,5.49e9,5.51e9,5.52e9,5.53e9,5.54e9,5.56e9,5.57e9,5.58e9,5.59e9,5.61e9,5.62e9,5.63e9,5.64e9,5.66e9,5.67e9,5.68e9,5.69e9], "grid": true, "gridColor": "#34340f", "labels": false, "ticks": false, "domain": false, "title": "Plot 0", "titleAnchor": "end", "titleColor": "#333333", "titlePadding": 3}},
      "y": {"field": "s", "type": "quantitative", "scale": {"domain": [-38, -10], "nice": false, "zero": false},
        "axis": {"orient": "right", "minExtent": 0, "values": [-10.4,-10.8,-11.2,-11.6,-12.4,-12.8,-13.2,-13.6,-14.4,-14.8,-15.2,-15.6,-16.4,-16.8,-17.2,-17.6,-18.4,-18.8,-19.2,-19.6,-20.4,-20.8,-21.2,-21.6,-22.4,-22.8,-23.2,-23.6,-24.4,-24.8,-25.2,-25.6,-26.4,-26.8,-27.2,-27.6,-28.4,-28.8,-29.2,-29.6,-30.4,-30.8,-31.2,-31.6,-32.4,-32.8,-33.2,-33.6,-34.4,-34.8,-35.2,-35.6,-36.4,-36.8,-37.2,-37.6], "grid": true, "gridColor": "#34340f", "labels": false, "ticks": false, "domain": false, "title": null}}}},
    {"mark": {"type": "line", "interpolate": "monotone", "color": "#d8d8cc", "strokeWidth": 1.5},
     "encoding": {
      "x": {"field": "f", "type": "quantitative",
        "axis": {"orient": "bottom", "values": [5e9,5.05e9,5.1e9,5.15e9,5.2e9,5.25e9,5.3e9,5.35e9,5.4e9,5.45e9,5.5e9,5.55e9,5.6e9,5.65e9,5.7e9], "grid": true, "gridColor": "#62620f", "labelExpr": "datum.value / 1e9 + 'E+9'", "labelFlush": false, "labelOverlap": false, "tickSize": 3, "title": "Frequency (Hz)", "titlePadding": 3}},
      "y": {"field": "s", "type": "quantitative",
        "axis": {"orient": "left", "values": [-10,-12,-14,-16,-18,-20,-22,-24,-26,-28,-30,-32,-34,-36,-38], "grid": true, "gridColor": "#62620f", "labelExpr": "'' + datum.value", "labelOverlap": false, "tickSize": 3, "title": "S21 (dB)", "titlePadding": 3}}}}
   ]}
  ], "spacing": 0},
  {"width": 542, "height": 46, "view": {"fill": "#ffff22", "stroke": "#8a8a00", "strokeWidth": 2}, "data": {"values": [{"msg": "RECORDING. Please Do Not Touch"}]},
   "mark": {"type": "text", "font": "Open Sans", "fontSize": 19, "fontWeight": "bold", "color": "#ff1c1c"},
   "encoding": {"text": {"field": "msg"}}}
 ], "columns": 1, "spacing": 4},
 {"concat": [
  {"hconcat": [
   {"hconcat": [
    {"width": 100, "height": 46, "view": {"fill": "#cccccc", "stroke": null}, "data": {"name": "visa"},
     "layer": [
      {"mark": {"type": "bar", "width": {"band": 0.85}, "stroke": "#8c8c8c", "strokeWidth": 1},
       "encoding": {"x": {"field": "label", "type": "nominal", "sort": null, "axis": null, "scale": {"paddingInner": 0, "paddingOuter": 0}},
        "y": {"datum": 0.065, "type": "quantitative", "axis": null, "scale": {"domain": [0, 1], "nice": false, "zero": false}},
        "y2": {"datum": 0.37},
        "fill": {"field": "kind", "type": "nominal", "legend": null, "scale": {"domain": ["input", "indicator", "button"], "range": ["#ffffff", "#d8d8d8", "#d0d0d0"]}}}},
      {"mark": {"type": "text", "align": "left", "baseline": "top", "fontSize": 8, "fontWeight": "bold", "lineBreak": "\n", "lineHeight": 10},
       "encoding": {"x": {"field": "label", "type": "nominal", "sort": null, "axis": null, "bandPosition": 0.075},
        "y": {"datum": 0.935, "type": "quantitative", "axis": null},
        "text": {"field": "label"},
        "color": {"field": "state", "type": "nominal", "legend": null, "scale": {"domain": ["on", "off"], "range": ["#1c1c1c", "#939393"]}}}},
      {"mark": {"type": "text", "align": "left", "baseline": "middle", "fontSize": 7.5, "color": "#222222"},
       "encoding": {"x": {"field": "label", "type": "nominal", "sort": null, "axis": null, "bandPosition": 0.11},
        "y": {"datum": 0.217, "type": "quantitative", "axis": null},
        "text": {"field": "value"}}}]},
    {"width": 174, "height": 46, "view": {"fill": "#cccccc", "stroke": null}, "data": {"name": "toggles"},
     "layer": [
      {"mark": {"type": "text", "align": "left", "baseline": "bottom", "fontSize": 8, "fontWeight": "bold"},
       "encoding": {"x": {"field": "label", "type": "nominal", "sort": null, "axis": null, "bandPosition": 0.04, "scale": {"type": "band", "paddingInner": 0, "paddingOuter": 0}},
        "y": {"datum": 0.61, "type": "quantitative", "axis": null, "scale": {"domain": [0, 1], "nice": false, "zero": false}},
        "text": {"field": "label"},
        "color": {"field": "state", "type": "nominal", "legend": null, "scale": {"domain": ["on", "off"], "range": ["#1c1c1c", "#939393"]}}}},
      {"mark": {"type": "point", "shape": "M -0.45 -0.55 A 0.45 0.45 0 0 1 0.45 -0.55 L 0.45 0.55 A 0.45 0.45 0 0 1 -0.45 0.55 Z", "size": 200, "filled": true, "fill": "#e4e4e4", "stroke": "#56566e", "strokeWidth": 1, "opacity": 1},
       "encoding": {"x": {"field": "label", "type": "nominal", "sort": null, "axis": null, "bandPosition": 0.18},
        "y": {"datum": 0.29, "type": "quantitative", "axis": null}}},
      {"mark": {"type": "text", "align": "left", "baseline": "middle", "fontSize": 7.5},
       "encoding": {"x": {"field": "label", "type": "nominal", "sort": null, "axis": null, "bandPosition": 0.3},
        "y": {"datum": 0.31, "type": "quantitative", "axis": null},
        "text": {"field": "value"},
        "color": {"field": "state", "type": "nominal", "legend": null, "scale": {"domain": ["on", "off"], "range": ["#1c1c1c", "#939393"]}}}}]}
   ], "spacing": 0},
   {"width": 265, "height": 46, "view": {"fill": "#cccccc", "stroke": null}, "data": {"name": "run"},
    "layer": [
     {"mark": {"type": "bar", "width": {"band": 0.6}, "stroke": "#8c8c8c", "strokeWidth": 1},
      "encoding": {"x": {"field": "label", "type": "nominal", "sort": null, "axis": null, "scale": {"paddingInner": 0, "paddingOuter": 0}},
       "y": {"datum": 0.065, "type": "quantitative", "axis": null, "scale": {"domain": [0, 1], "nice": false, "zero": false}},
       "y2": {"datum": 0.37},
       "fill": {"field": "kind", "type": "nominal", "legend": null, "scale": {"domain": ["input", "indicator", "button"], "range": ["#ffffff", "#d8d8d8", "#d0d0d0"]}}}},
     {"mark": {"type": "text", "align": "left", "baseline": "top", "fontSize": 8, "fontWeight": "bold", "lineBreak": "\n", "lineHeight": 10},
      "encoding": {"x": {"field": "label", "type": "nominal", "sort": null, "axis": null, "bandPosition": 0.2},
       "y": {"datum": 0.935, "type": "quantitative", "axis": null},
       "text": {"field": "label"},
       "color": {"field": "state", "type": "nominal", "legend": null, "scale": {"domain": ["on", "off"], "range": ["#1c1c1c", "#939393"]}}}},
     {"transform": [{"filter": "datum.kind != 'button'"}],
      "mark": {"type": "text", "align": "left", "baseline": "middle", "fontSize": 7.5, "color": "#222222"},
      "encoding": {"x": {"field": "label", "type": "nominal", "sort": null, "axis": null, "bandPosition": 0.25},
       "y": {"datum": 0.217, "type": "quantitative", "axis": null},
       "text": {"field": "value"}}},
     {"transform": [{"filter": "datum.kind == 'button'"}],
      "mark": {"type": "text", "align": "center", "baseline": "middle", "fontSize": 7.5, "color": "#222222"},
      "encoding": {"x": {"field": "label", "type": "nominal", "sort": null, "axis": null, "bandPosition": 0.5},
       "y": {"datum": 0.217, "type": "quantitative", "axis": null},
       "text": {"field": "value"}}}]}
  ], "spacing": 3},
  {"hconcat": [
   {"width": 272, "height": 56, "view": {"fill": "#cccccc", "stroke": null}, "data": {"name": "freq"},
    "layer": [
     {"mark": {"type": "bar", "width": {"band": 0.72}, "stroke": "#8c8c8c", "strokeWidth": 1},
      "encoding": {"x": {"field": "label", "type": "nominal", "sort": null, "axis": null, "scale": {"paddingInner": 0, "paddingOuter": 0.35, "align": 0}},
       "y": {"datum": 0.18, "type": "quantitative", "axis": null, "scale": {"domain": [0, 1], "nice": false, "zero": false}},
       "y2": {"datum": 0.45},
       "fill": {"field": "kind", "type": "nominal", "legend": null, "scale": {"domain": ["input", "indicator", "button"], "range": ["#ffffff", "#d8d8d8", "#d0d0d0"]}}}},
     {"mark": {"type": "text", "align": "left", "baseline": "top", "fontSize": 8, "fontWeight": "bold", "lineBreak": "\n", "lineHeight": 10, "color": "#1c1c1c"},
      "encoding": {"x": {"field": "label", "type": "nominal", "sort": null, "axis": null, "bandPosition": 0.14},
       "y": {"datum": 0.875, "type": "quantitative", "axis": null},
       "text": {"field": "label"}}},
     {"mark": {"type": "text", "align": "left", "baseline": "middle", "fontSize": 7.5, "color": "#222222"},
      "encoding": {"x": {"field": "label", "type": "nominal", "sort": null, "axis": null, "bandPosition": 0.18},
       "y": {"datum": 0.315, "type": "quantitative", "axis": null},
       "text": {"field": "value"}}}]},
   {"hconcat": [
    {"width": 75, "height": 56, "view": {"fill": "#cccccc", "stroke": null}, "data": {"values": [{"label": "Water (%)", "value": "2.54"}]},
     "layer": [
      {"mark": {"type": "bar", "width": {"band": 0.8}, "fill": "#d5d5d5", "stroke": "#a6a6a6", "strokeWidth": 1},
       "encoding": {"x": {"field": "label", "type": "nominal", "axis": null, "scale": {"paddingInner": 0, "paddingOuter": 0}},
        "y": {"datum": 0.18, "type": "quantitative", "axis": null, "scale": {"domain": [0, 1], "nice": false, "zero": false}},
        "y2": {"datum": 0.55}}},
      {"mark": {"type": "text", "align": "left", "baseline": "middle", "fontSize": 13, "fontWeight": "bold", "color": "#1a1a1a"},
       "encoding": {"x": {"field": "label", "type": "nominal", "axis": null, "bandPosition": 0.08},
        "y": {"datum": 0.73, "type": "quantitative", "axis": null},
        "text": {"field": "label"}}},
      {"mark": {"type": "text", "align": "left", "baseline": "middle", "fontSize": 12, "color": "#1a1a1a"},
       "encoding": {"x": {"field": "label", "type": "nominal", "axis": null, "bandPosition": 0.16},
        "y": {"datum": 0.365, "type": "quantitative", "axis": null},
        "text": {"field": "value"}}}]},
    {"width": 192, "height": 56, "view": {"fill": "#cccccc", "stroke": null}, "data": {"name": "indicator"},
     "layer": [
      {"mark": {"type": "rect", "fill": "#0a10f0", "stroke": "#5a5a5a", "strokeWidth": 1},
       "encoding": {"x": {"field": "reading", "type": "quantitative", "scale": {"domain": [-2.29, 1.98], "nice": false, "zero": false},
         "axis": {"values": [-1, -0.5, 0, 0.5, 1], "labelExpr": "'' + datum.value", "domain": false, "grid": false, "tickSize": 3, "labelFontSize": 7, "labelPadding": 1, "title": null, "offset": -15, "labelFlush": false, "labelOverlap": false}},
        "x2": {"datum": -1},
        "y": {"datum": 0.268, "type": "quantitative", "axis": null, "scale": {"domain": [0, 1], "nice": false, "zero": false}},
        "y2": {"datum": 0.554}}},
      {"mark": {"type": "rect", "fill": "#ffffff", "stroke": "#9a9a9a", "strokeWidth": 1},
       "encoding": {"x": {"datum": 1.31, "type": "quantitative"}, "x2": {"datum": 1.8},
        "y": {"datum": 0.18, "type": "quantitative", "axis": null}, "y2": {"datum": 0.45}}},
      {"mark": {"type": "text", "align": "left", "baseline": "middle", "fontSize": 8, "color": "#222222"},
       "encoding": {"x": {"datum": 1.4, "type": "quantitative"},
        "y": {"datum": 0.315, "type": "quantitative", "axis": null},
        "text": {"field": "reading"}}}]}
   ], "spacing": 0}
  ], "spacing": 3},
  {"hconcat": [
  {"width": 1, "height": 1, "view": {"fill": null, "stroke": null}, "data": {"name": "spacer"}, "mark": {"type": "point", "opacity": 0}},
  {"width": 500, "height": 230,
   "title": {"text": "S21", "anchor": "start", "frame": "bounds", "fontSize": 7, "fontWeight": "bold", "color": "#333333", "offset": 1},
   "view": {"fill": "#16160a", "stroke": "#6e6e6e"},
   "data": {"values": [
    {"f": 5.0e9, "s": -19.4}, {"f": 5.0085e9, "s": -21.0}, {"f": 5.0186e9, "s": -24.6}, {"f": 5.0286e9, "s": -28.4}, {"f": 5.0386e9, "s": -30.6}, {"f": 5.051e9, "s": -32.0}, {"f": 5.0637e9, "s": -32.0}, {"f": 5.076e9, "s": -31.6}, {"f": 5.0838e9, "s": -25.1}, {"f": 5.0913e9, "s": -15.8}, {"f": 5.1014e9, "s": -13.4}, {"f": 5.109e9, "s": -11.45}, {"f": 5.1164e9, "s": -13.4}, {"f": 5.124e9, "s": -10.1}, {"f": 5.1315e9, "s": -12.8}, {"f": 5.139e9, "s": -15.8}, {"f": 5.144e9, "s": -16.6}, {"f": 5.1515e9, "s": -15.5}, {"f": 5.158e9, "s": -10.1}, {"f": 5.164e9, "s": -18.0}, {"f": 5.174e9, "s": -36.6}, {"f": 5.184e9, "s": -32.2}, {"f": 5.199e9, "s": -30.0}, {"f": 5.219e9, "s": -28.9}, {"f": 5.234e9, "s": -27.6}, {"f": 5.2484e9, "s": -25.2}, {"f": 5.257e9, "s": -30.0}, {"f": 5.2695e9, "s": -26.5}, {"f": 5.2895e9, "s": -23.75}, {"f": 5.302e9, "s": -25.7}, {"f": 5.307e9, "s": -21.3}, {"f": 5.3247e9, "s": -16.9}, {"f": 5.342e9, "s": -9.7}, {"f": 5.3548e9, "s": -9.8}, {"f": 5.37e9, "s": -11.45}, {"f": 5.39e9, "s": -12.8}, {"f": 5.41e9, "s": -13.4}, {"f": 5.425e9, "s": -12.8}, {"f": 5.445e9, "s": -10.4}, {"f": 5.47e9, "s": -8.2}, {"f": 5.4853e9, "s": -6.8}, {"f": 5.4978e9, "s": -6.6}, {"f": 5.51e9, "s": -7.9}, {"f": 5.528e9, "s": -8.7}, {"f": 5.5405e9, "s": -10.9}, {"f": 5.553e9, "s": -13.9}, {"f": 5.5655e9, "s": -15.0}, {"f": 5.5806e9, "s": -16.6}, {"f": 5.6e9, "s": -20.5}, {"f": 5.6157e9, "s": -23.2}, {"f": 5.6308e9, "s": -26.8}, {"f": 5.651e9, "s": -32.5}, {"f": 5.666e9, "s": -37.7}, {"f": 5.676e9, "s": -42.1}, {"f": 5.681e9, "s": -42.0}, {"f": 5.691e9, "s": -34.4}, {"f": 5.7e9, "s": -18.8}
   ]},
   "resolve": {"axis": {"x": "independent", "y": "independent"}},
   "layer": [
    {"mark": {"type": "line", "opacity": 0},
     "encoding": {
      "x": {"field": "f", "type": "quantitative", "scale": {"domain": [5e9, 5.7e9], "nice": false, "zero": false},
        "axis": {"orient": "top", "minExtent": 0, "values": [5.01e9,5.02e9,5.03e9,5.04e9,5.06e9,5.07e9,5.08e9,5.09e9,5.11e9,5.12e9,5.13e9,5.14e9,5.16e9,5.17e9,5.18e9,5.19e9,5.21e9,5.22e9,5.23e9,5.24e9,5.26e9,5.27e9,5.28e9,5.29e9,5.31e9,5.32e9,5.33e9,5.34e9,5.36e9,5.37e9,5.38e9,5.39e9,5.41e9,5.42e9,5.43e9,5.44e9,5.46e9,5.47e9,5.48e9,5.49e9,5.51e9,5.52e9,5.53e9,5.54e9,5.56e9,5.57e9,5.58e9,5.59e9,5.61e9,5.62e9,5.63e9,5.64e9,5.66e9,5.67e9,5.68e9,5.69e9], "grid": true, "gridColor": "#34340f", "labels": false, "ticks": false, "domain": false, "title": "Plot 0", "titleAnchor": "end", "titleColor": "#333333", "titlePadding": 3}},
      "y": {"field": "s", "type": "quantitative", "scale": {"domain": [-42.5, -5], "nice": false, "zero": false},
        "axis": {"orient": "right", "minExtent": 0, "values": [-5.5,-6,-6.5,-7,-8,-8.5,-9,-9.5,-10.5,-11,-11.5,-12,-13,-13.5,-14,-14.5,-15.5,-16,-16.5,-17,-18,-18.5,-19,-19.5,-20.5,-21,-21.5,-22,-23,-23.5,-24,-24.5,-25.5,-26,-26.5,-27,-28,-28.5,-29,-29.5,-30.5,-31,-31.5,-32,-33,-33.5,-34,-34.5,-35.5,-36,-36.5,-37,-38,-38.5,-39,-39.5,-40.5,-41,-41.5,-42], "grid": true, "gridColor": "#34340f", "labels": false, "ticks": false, "domain": false, "title": null}}}},
    {"mark": {"type": "line", "interpolate": "monotone", "color": "#d8d8cc", "strokeWidth": 1.5},
     "encoding": {
      "x": {"field": "f", "type": "quantitative",
        "axis": {"orient": "bottom", "values": [5e9,5.05e9,5.1e9,5.15e9,5.2e9,5.25e9,5.3e9,5.35e9,5.4e9,5.45e9,5.5e9,5.55e9,5.6e9,5.65e9,5.7e9], "grid": true, "gridColor": "#62620f", "labelExpr": "datum.value / 1e9 + 'E+9'", "labelFlush": false, "labelOverlap": false, "tickSize": 3, "title": "Frequency (Hz)", "titlePadding": 3}},
      "y": {"field": "s", "type": "quantitative",
        "axis": {"orient": "left", "values": [-5,-7.5,-10,-12.5,-15,-17.5,-20,-22.5,-25,-27.5,-30,-32.5,-35,-37.5,-40,-42.5], "grid": true, "gridColor": "#62620f", "labelExpr": "'' + datum.value", "labelOverlap": false, "tickSize": 3, "title": "S21 (dB)", "titlePadding": 3}}}}
   ]}
  ], "spacing": 0},
  {"width": 542, "height": 46, "view": {"fill": "#ffff22", "stroke": "#8a8a00", "strokeWidth": 2}, "data": {"values": [{"msg": "RECORDING. Please Do Not Touch"}]},
   "mark": {"type": "text", "font": "Open Sans", "fontSize": 19, "fontWeight": "bold", "color": "#ff1c1c"},
   "encoding": {"text": {"field": "msg"}}}
 ], "columns": 1, "spacing": 5}
]}
]
}
